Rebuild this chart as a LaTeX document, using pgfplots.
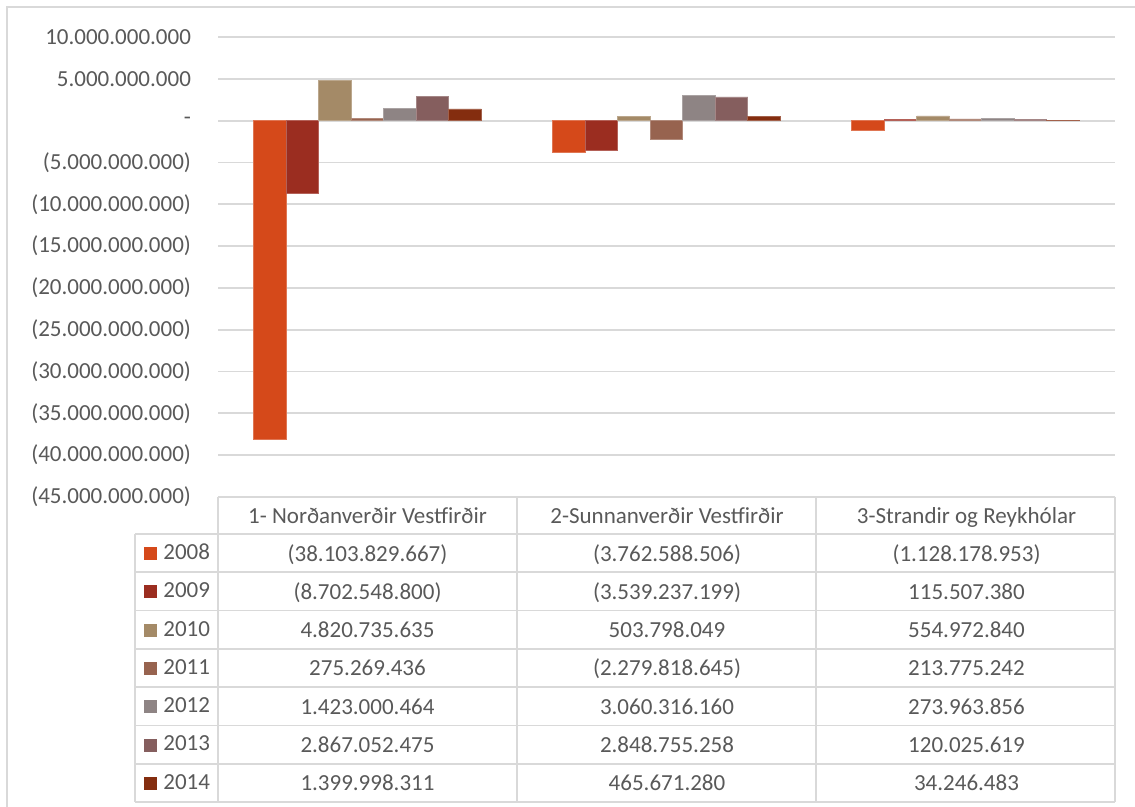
\documentclass[border=0pt]{standalone}
\usepackage{pgfplots}
\pgfplotsset{compat=1.18}
\usepackage{fontspec}
\setmainfont{Carlito}

\definecolor{txt}{HTML}{595959}
\definecolor{gridc}{HTML}{D9D9D9}
\definecolor{c08}{HTML}{D5491A}
\definecolor{c09}{HTML}{9B2D20}
\definecolor{c10}{HTML}{A48A67}
\definecolor{c11}{HTML}{97634F}
\definecolor{c12}{HTML}{8E8484}
\definecolor{c13}{HTML}{855E5E}
\definecolor{c14}{HTML}{842D0F}

\newcommand{\tfont}{\fontsize{11.5}{13}\selectfont}

\begin{document}
\begin{tikzpicture}
\useasboundingbox (0,0) rectangle (567.5pt,403.5pt);
\draw[gridc, line width=0.8pt] (3.5pt,-10pt) rectangle (575pt,400pt);

\begin{axis}[
  at={(109pt,155pt)}, anchor=south west,
  scale only axis, width=448.5pt, height=230pt,
  ybar=0pt, bar width=16.25pt,
  xmin=-0.5, xmax=2.5, ymin=-45e9, ymax=10e9,
  axis line style={draw=none},
  xtick=\empty,
  major tick length=0pt,
  scaled y ticks=false,
  ytick={-45e9,-40e9,-35e9,-30e9,-25e9,-20e9,-15e9,-10e9,-5e9,0,5e9,10e9},
  yticklabels={(45.000.000.000),(40.000.000.000),(35.000.000.000),(30.000.000.000),
    (25.000.000.000),(20.000.000.000),(15.000.000.000),(10.000.000.000),
    (5.000.000.000),-,5.000.000.000,10.000.000.000},
  yticklabel style={font=\tfont, text=txt, anchor=east, xshift=-10pt},
  ymajorgrids,
  major grid style={gridc, line width=0.9pt},
  clip=false,
  legend style={at={(-0.0825,-0.0804)}, anchor=north west, draw=none, fill=none,
    inner sep=0pt, row sep=0pt, column sep=3pt, font=\tfont, text=txt,
    nodes={minimum height=19.15pt, inner sep=0pt}},
  legend cell align=left,
  legend image code/.code={\fill[#1,draw=none] (0pt,-3.25pt) rectangle (6.5pt,3.25pt);},
]
\addplot[fill=c08, draw=c08!75!white, line width=0.3pt] coordinates {(0,-38103829667) (1,-3762588506) (2,-1128178953)};
\addplot[fill=c09, draw=c09!75!white, line width=0.3pt] coordinates {(0,-8702548800) (1,-3539237199) (2,115507380)};
\addplot[fill=c10, draw=c10!75!white, line width=0.3pt] coordinates {(0,4820735635) (1,503798049) (2,554972840)};
\addplot[fill=c11, draw=c11!75!white, line width=0.3pt] coordinates {(0,275269436) (1,-2279818645) (2,213775242)};
\addplot[fill=c12, draw=c12!75!white, line width=0.3pt] coordinates {(0,1423000464) (1,3060316160) (2,273963856)};
\addplot[fill=c13, draw=c13!75!white, line width=0.3pt] coordinates {(0,2867052475) (1,2848755258) (2,120025619)};
\addplot[fill=c14, draw=c14!75!white, line width=0.3pt] coordinates {(0,1399998311) (1,465671280) (2,34246483)};
\legend{2008,2009,2010,2011,2012,2013,2014}
\end{axis}

% data table under the plot
\begin{scope}[x=0.5pt, y=-0.5pt, shift={(0pt,403.5pt)}]
  \begin{scope}[gridc, line width=0.9pt]
    \draw (218,497) -- (1115,497);
    \foreach \r in {0,...,7} \draw (135,{534+38.2857*\r}) -- (1115,{534+38.2857*\r});
    \foreach \c in {218,517,816,1115} \draw (\c,497) -- (\c,802);
    \draw (135,534) -- (135,802);
  \end{scope}
  \begin{scope}[every node/.style={font=\tfont, text=txt, anchor=base, inner sep=0pt}]
    \node at (367.5,523.5) {1- Norðanverðir Vestfirðir};
    \node at (667,523.5) {2-Sunnanverðir Vestfirðir};
    \node at (966.5,523.5) {3-Strandir og Reykhólar};
    \foreach \a/\b/\c [count=\i from 0] in {
      {(38.103.829.667)}/{(3.762.588.506)}/{(1.128.178.953)},
      {(8.702.548.800)}/{(3.539.237.199)}/{115.507.380},
      {4.820.735.635}/{503.798.049}/{554.972.840},
      {275.269.436}/{(2.279.818.645)}/{213.775.242},
      {1.423.000.464}/{3.060.316.160}/{273.963.856},
      {2.867.052.475}/{2.848.755.258}/{120.025.619},
      {1.399.998.311}/{465.671.280}/{34.246.483}} {
      \node at (367.5,{534+38.2857*(\i+0.5)+8}) {\a};
      \node at (667,{534+38.2857*(\i+0.5)+8}) {\b};
      \node at (966.5,{534+38.2857*(\i+0.5)+8}) {\c};
    }
  \end{scope}
\end{scope}
\end{tikzpicture}
\end{document}
